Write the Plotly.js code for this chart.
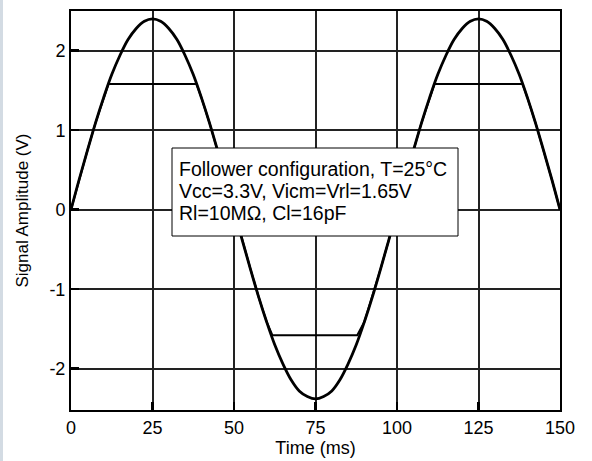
<!DOCTYPE html>
<html>
<head>
<meta charset="utf-8">
<script src="https://cdn.plot.ly/plotly-3.0.1.min.js"></script>
<style>
  html, body { margin: 0; padding: 0; background: #ffffff; }
  #wrap { position: relative; width: 592px; height: 461px; }
  #chart { width: 592px; height: 461px; }
  #edge { position: absolute; left: 0; top: 0; width: 3px; height: 461px; background: #d3dbe3; }
</style>
</head>
<body>
<div id="wrap">
  <div id="chart"></div>
  <div id="edge"></div>
</div>
<script>
// Input signal (ms, V)
const timeIn = [0, 2.5, 5, 7.5, 10, 12.5, 15, 17.5, 20, 22.5, 25, 27.5, 30, 32.5, 35, 37.5, 40, 42.5, 45, 47.5,
  50, 52.5, 55, 57.5, 60, 62.5, 65, 67.5, 70, 72.5, 75, 77.5, 80, 82.5, 85, 87.5, 90, 92.5, 95, 97.5,
  100, 102.5, 105, 107.5, 110, 112.5, 115, 117.5, 120, 122.5, 125, 127.5, 130, 132.5, 135, 137.5, 140, 142.5, 145, 147.5, 150];
const inputV = [0, 0.38, 0.74, 1.09, 1.41, 1.70, 1.94, 2.14, 2.28, 2.37, 2.40, 2.37, 2.28, 2.14, 1.94, 1.70, 1.41, 1.09, 0.74, 0.38,
  0, -0.38, -0.74, -1.09, -1.41, -1.70, -1.94, -2.14, -2.28, -2.35, -2.38, -2.35, -2.28, -2.14, -1.94, -1.70, -1.41, -1.09, -0.74, -0.38,
  0, 0.38, 0.74, 1.09, 1.41, 1.70, 1.94, 2.14, 2.28, 2.37, 2.40, 2.37, 2.28, 2.14, 1.94, 1.70, 1.41, 1.09, 0.74, 0.38, 0];

// Follower output (clipped)
const timeOut = [0, 2.5, 5, 7.5, 10, 11.5, 38.5, 40, 42.5, 45, 47.5, 50, 52.5, 55, 57.5, 60, 61.8, 87.8, 90, 92.5, 95, 97.5,
  100, 102.5, 105, 107.5, 110, 111.5, 138.5, 140, 142.5, 145, 147.5, 150];
const outputV = [0, 0.38, 0.74, 1.09, 1.41, 1.58, 1.58, 1.41, 1.09, 0.74, 0.38, 0, -0.38, -0.74, -1.09, -1.41, -1.58, -1.58, -1.41, -1.09, -0.74, -0.38,
  0, 0.38, 0.74, 1.09, 1.41, 1.58, 1.58, 1.41, 1.09, 0.74, 0.38, 0];

const xTicks = [0, 25, 50, 75, 100, 125, 150];
const yTicks = [-2, -1, 0, 1, 2];
const noteLines = ["Follower configuration, T=25°C", "Vcc=3.3V, Vicm=Vrl=1.65V", "Rl=10MΩ, Cl=16pF"];

const font = "Arial, 'Liberation Sans', sans-serif";

const traces = [
  { x: timeIn, y: inputV, mode: 'lines', line: { color: '#000', width: 2.8, shape: 'spline' }, hoverinfo: 'skip' },
  { x: timeOut, y: outputV, mode: 'lines', line: { color: '#000', width: 2, shape: 'linear' }, hoverinfo: 'skip' }
];

// plot area in pixels: x 71..560, y 11..410
const px = v => (v - 71) / 489;
const py = v => (410 - v) / 399;
const lineCenters = [169, 191, 213];

const annotations = noteLines.map((t, i) => ({
  xref: 'paper', yref: 'paper',
  x: px(177), y: py(lineCenters[i]),
  xanchor: 'left', yanchor: 'middle',
  text: t, showarrow: false, align: 'left',
  font: { family: font, size: 19.5, color: '#000' }
}));

const layout = {
  width: 592, height: 461,
  margin: { l: 71, r: 32, t: 11, b: 51 },
  paper_bgcolor: '#fff', plot_bgcolor: '#fff',
  showlegend: false,
  font: { family: font, color: '#000', size: 18 },
  xaxis: {
    range: [0, 150], tickvals: xTicks, ticktext: xTicks.map(String),
    showgrid: true, gridcolor: '#222', gridwidth: 2,
    zeroline: false, showline: true, linecolor: '#000', linewidth: 2, mirror: true,
    ticks: 'inside', ticklen: 8, tickwidth: 2.5, tickcolor: '#000',
    tickfont: { family: font, size: 18, color: '#000' },
    title: { text: 'Time (ms)', font: { family: font, size: 18, color: '#000' }, standoff: 1 }
  },
  yaxis: {
    range: [-2.52, 2.50], tickvals: yTicks, ticktext: yTicks.map(String),
    showgrid: true, gridcolor: '#222', gridwidth: 2,
    zeroline: false, showline: true, linecolor: '#000', linewidth: 2, mirror: true,
    ticks: 'inside', ticklen: 8, tickwidth: 2.5, tickcolor: '#000',
    tickfont: { family: font, size: 18, color: '#000' },
    title: { text: 'Signal Amplitude (V)', font: { family: font, size: 17, color: '#000' }, standoff: 16 }
  },
  shapes: [{
    type: 'rect', xref: 'paper', yref: 'paper',
    x0: px(172), x1: px(458), y0: py(236), y1: py(148),
    fillcolor: '#fff', line: { color: '#000', width: 1 }, layer: 'above'
  }],
  annotations: annotations
};

Plotly.newPlot('chart', traces, layout, { staticPlot: true, displayModeBar: false });
</script>
</body>
</html>
